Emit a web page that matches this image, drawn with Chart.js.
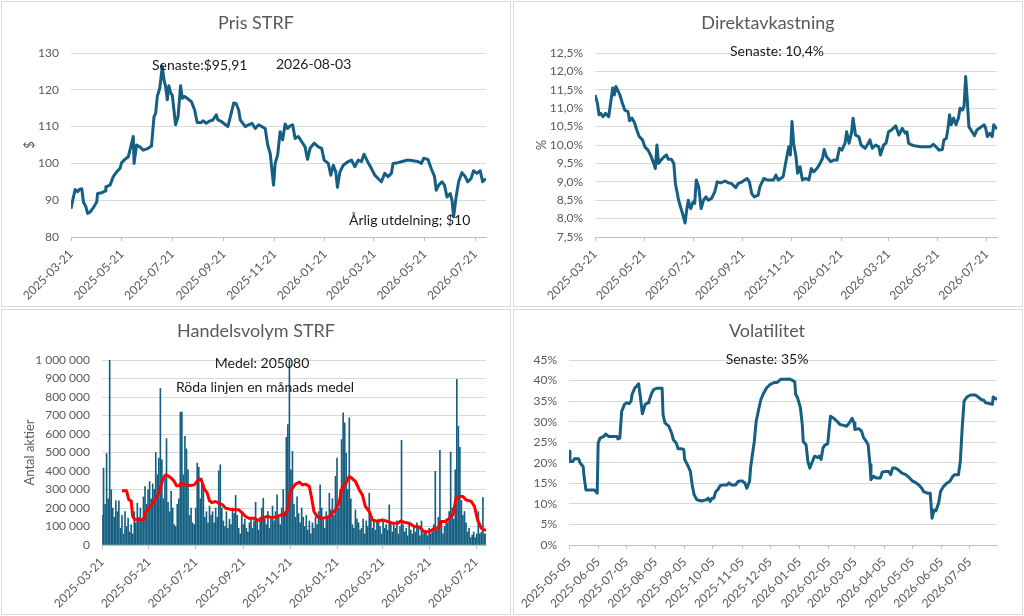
<!DOCTYPE html>
<html>
<head>
<meta charset="utf-8">
<script src="https://cdn.jsdelivr.net/npm/chart.js@4.4.1/dist/chart.umd.min.js"></script>
<style>
    body { margin: 0; background: #fff; width: 1024px; height: 616px; position: relative; overflow: hidden; }
    .panel { position: absolute; width: 508px; height: 304px; border: 1px solid #d9d9d9; background: #fff; }
    canvas { display: block; }
</style>
</head>
<body>
<div class="panel" style="left:1px;top:1px"><canvas id="priceChart" width="508" height="304"></canvas></div>
<div class="panel" style="left:513px;top:1px"><canvas id="yieldChart" width="508" height="304"></canvas></div>
<div class="panel" style="left:1px;top:309px"><canvas id="volumeChart" width="508" height="304"></canvas></div>
<div class="panel" style="left:513px;top:309px"><canvas id="volaChart" width="508" height="304"></canvas></div>
<script>
// dates are kept as day offsets from START (price, yield, volume) or VOLA_START (volatility)
const START = "2025-03-21";
const END = "2026-08-03";
const VOLA_START = "2025-05-05";

const dateTicks = ["2025-03-21", "2025-05-21", "2025-07-21", "2025-09-21", "2025-11-21", "2026-01-21", "2026-03-21", "2026-05-21", "2026-07-21"];
const volaTicks = ["2025-05-05", "2025-06-05", "2025-07-05", "2025-08-05", "2025-09-05", "2025-10-05", "2025-11-05", "2025-12-05", "2026-01-05", "2026-02-05", "2026-03-05", "2026-04-05", "2026-05-05", "2026-06-05", "2026-07-05"];

const priceDays = [0, 3, 5, 8, 10, 13, 15, 18, 20, 23, 27, 31, 32, 37, 41, 42, 47, 51, 55, 59,
    61, 65, 69, 72, 75, 76, 79, 83, 87, 93, 97, 100, 102, 104, 107, 110, 112, 114, 116, 118,
    120, 122, 126, 129, 132, 134, 137, 141, 145, 149, 152, 157, 159, 163, 167, 171, 175, 177, 181, 185,
    189, 193, 196, 199, 202, 204, 210, 214, 218, 222, 226, 230, 234, 237, 240, 244, 246, 249, 252, 255,
    258, 261, 264, 267, 270, 274, 278, 282, 285, 288, 293, 298, 302, 305, 310, 313, 316, 319, 321, 324,
    328, 334, 338, 342, 346, 350, 353, 358, 362, 366, 370, 374, 378, 382, 386, 388, 394, 400, 406, 412,
    418, 422, 425, 430, 434, 438, 440, 443, 447, 450, 453, 457, 459, 461, 464, 467, 471, 475, 478, 482,
    485, 489, 493, 496, 500];
const priceValues = [87.7, 90.9, 92.9, 92.3, 92.9, 93.1, 89.5, 88.2, 86.4, 86.8, 88.0, 89.5, 91.8, 92.0, 92.5, 93.6, 94.1, 96.4, 97.7, 98.6,
    100.2, 101.1, 101.8, 104.5, 107.3, 100.0, 105.0, 104.5, 103.6, 104.1, 104.7, 112.7, 113.6, 118.2, 120.5, 126.4, 122.7, 120.9, 117.3, 121.1,
    119.1, 118.6, 110.5, 112.7, 121.1, 117.7, 118.2, 117.5, 116.8, 114.5, 111.1, 111.1, 111.6, 110.9, 111.5, 111.8, 113.2, 111.8, 111.4, 110.7,
    110.0, 113.6, 116.4, 116.2, 114.5, 111.8, 110.0, 110.5, 110.9, 109.5, 110.5, 110.0, 109.5, 105.0, 102.7, 94.1, 100.0, 102.3, 108.6, 106.4,
    110.7, 109.5, 110.2, 110.5, 106.8, 107.3, 105.9, 104.5, 101.1, 104.1, 105.5, 104.5, 104.1, 100.9, 100.0, 96.8, 99.5, 97.7, 93.5, 97.7,
    99.5, 100.5, 100.9, 99.1, 100.9, 100.5, 102.5, 100.2, 98.6, 96.8, 95.9, 95.0, 97.3, 96.4, 97.3, 100.0, 100.2, 100.6, 100.9, 100.7,
    100.5, 100.0, 101.4, 101.1, 98.6, 96.4, 92.7, 94.1, 95.0, 94.1, 90.9, 91.8, 90.0, 85.5, 90.9, 95.0, 97.5, 96.4, 95.0, 95.9,
    98.0, 97.3, 98.0, 95.0, 95.91];

const yieldDays = [0, 3, 5, 7, 10, 13, 17, 20, 22, 24, 26, 29, 31, 34, 37, 41, 43, 46, 49, 52,
    55, 59, 62, 66, 70, 73, 75, 77, 79, 82, 86, 89, 91, 95, 98, 100, 104, 107, 110, 112,
    114, 116, 119, 122, 124, 126, 129, 132, 135, 138, 141, 145, 149, 152, 156, 162, 166, 170, 175, 178,
    183, 189, 192, 195, 198, 203, 205, 210, 214, 218, 222, 225, 228, 234, 237, 241, 243, 245, 247, 250,
    252, 255, 258, 262, 266, 269, 272, 276, 280, 283, 285, 288, 293, 297, 301, 304, 307, 311, 313, 316,
    319, 321, 324, 328, 331, 336, 340, 342, 345, 349, 353, 355, 359, 362, 365, 369, 374, 378, 382, 386,
    388, 390, 394, 399, 405, 411, 417, 421, 424, 428, 432, 434, 437, 439, 441, 443, 446, 449, 452, 454,
    457, 459, 461, 463, 465, 469, 472, 475, 481, 484, 486, 488, 491, 494, 496, 500];
const yieldValues = [11.36, 11.14, 10.82, 10.86, 10.77, 10.86, 10.77, 11.23, 11.55, 11.36, 11.59, 11.45, 11.36, 11.14, 10.95, 10.91, 10.66, 10.73, 10.61, 10.41,
    10.23, 10.14, 9.95, 9.86, 9.68, 9.5, 9.36, 10.0, 9.5, 9.59, 9.68, 9.73, 9.61, 9.61, 9.5, 8.95, 8.5, 8.27, 8.05, 7.88,
    8.23, 8.5, 8.27, 8.45, 8.41, 9.05, 8.86, 8.27, 8.5, 8.59, 8.5, 8.55, 8.73, 9.0, 8.97, 9.02, 8.97, 8.95, 8.84, 8.95,
    9.0, 9.09, 9.0, 8.68, 8.59, 8.64, 8.86, 9.09, 9.05, 9.05, 9.05, 9.18, 9.05, 9.14, 9.5, 9.95, 9.73, 10.64, 10.05, 9.68,
    9.23, 9.41, 9.05, 9.09, 9.05, 9.36, 9.27, 9.36, 9.5, 9.64, 9.88, 9.68, 9.55, 9.59, 9.59, 9.91, 9.86, 10.05, 10.36, 10.05,
    10.32, 10.73, 10.27, 10.23, 10.0, 9.91, 10.05, 10.14, 9.91, 10.0, 9.95, 9.73, 10.0, 10.05, 10.36, 10.41, 10.52, 10.27, 10.45, 10.32,
    10.36, 10.05, 10.0, 9.97, 9.95, 9.95, 9.95, 10.02, 9.95, 9.86, 9.88, 10.14, 10.18, 10.45, 10.82, 10.55, 10.73, 10.55, 10.73, 11.0,
    10.95, 11.05, 11.86, 11.23, 10.5, 10.36, 10.25, 10.41, 10.5, 10.55, 10.45, 10.23, 10.32, 10.23, 10.55, 10.43];

// one bar every second day, values in thousands of shares
const volumeStepDays = 2;
const volumeThousands = [160, 416, 220, 494, 250, 1000, 298, 200, 150, 239,
    180, 239, 90, 160, 60, 181, 100, 145, 70, 110,
    60, 180, 120, 226, 150, 200, 140, 260, 316, 220,
    298, 343, 250, 330, 300, 500, 380, 470, 846, 460,
    250, 380, 575, 230, 180, 290, 200, 110, 100, 220,
    250, 718, 718, 380, 588, 519, 407, 160, 200, 120,
    110, 200, 443, 420, 250, 362, 320, 150, 180, 120,
    210, 160, 180, 120, 200, 150, 401, 434, 200, 130,
    100, 180, 90, 140, 110, 200, 170, 268, 160, 90,
    60, 180, 110, 140, 90, 70, 120, 150, 90, 130,
    231, 140, 80, 150, 200, 253, 140, 110, 180, 90,
    150, 210, 130, 180, 271, 160, 110, 200, 300, 180,
    582, 651, 1000, 407, 506, 220, 150, 260, 170, 120,
    200, 150, 100, 160, 80, 130, 60, 120, 90, 150,
    110, 180, 325, 200, 140, 90, 180, 150, 280, 190,
    250, 160, 371, 470, 200, 300, 570, 715, 660, 497,
    300, 687, 250, 110, 90, 190, 140, 120, 80, 90,
    140, 60, 130, 100, 280, 140, 90, 130, 80, 120,
    140, 100, 60, 130, 90, 110, 80, 217, 120, 70,
    110, 90, 130, 60, 100, 566, 110, 70, 90, 50,
    120, 80, 60, 100, 70, 120, 90, 50, 130, 60,
    80, 70, 50, 90, 60, 70, 110, 398, 80, 150,
    512, 120, 60, 100, 140, 120, 180, 503, 200, 140,
    407, 895, 642, 528, 240, 160, 181, 120, 70, 90,
    40, 54, 70, 40, 60, 180, 60, 70, 257, 60, 60];

const avgDays = [26, 32, 35, 38, 40, 43, 50, 54, 57, 61, 65, 70, 74, 77, 80, 83, 87, 91, 94, 97,
    100, 103, 107, 111, 115, 120, 124, 127, 130, 133, 137, 140, 143, 148, 152, 157, 161, 167, 174, 178,
    183, 187, 191, 198, 202, 207, 210, 215, 222, 228, 235, 239, 242, 245, 248, 252, 257, 261, 265, 270,
    273, 276, 280, 285, 291, 296, 300, 304, 309, 313, 317, 322, 326, 330, 335, 339, 343, 348, 352, 359,
    365, 372, 378, 385, 389, 393, 400, 407, 413, 419, 426, 433, 438, 441, 448, 452, 457, 461, 465, 470,
    474, 481, 485, 489, 494, 498, 500];
const avgThousands = [293, 293, 244, 239, 154, 136, 136, 136, 181, 199, 217, 253, 280, 325, 362, 380, 371, 358, 344, 320,
    320, 335, 325, 325, 322, 325, 344, 358, 344, 307, 280, 239, 230, 235, 226, 217, 199, 193, 190, 190,
    172, 154, 145, 145, 136, 132, 148, 154, 148, 154, 166, 163, 199, 289, 307, 329, 340, 325, 329, 316,
    253, 181, 154, 145, 148, 154, 172, 190, 235, 316, 329, 371, 358, 344, 298, 271, 208, 181, 136, 127,
    136, 127, 118, 118, 130, 123, 118, 99, 99, 72, 72, 90, 90, 127, 127, 145, 163, 253, 262, 262,
    244, 235, 208, 136, 90, 81, 81];

const volaDays = [0, 1, 4, 6, 10, 12, 15, 16, 18, 22, 27, 30, 31, 33, 37, 39, 42, 47, 51, 52,
    54, 56, 59, 61, 64, 66, 67, 70, 72, 74, 76, 78, 81, 84, 85, 88, 90, 93, 97, 99,
    100, 102, 106, 109, 111, 114, 116, 120, 122, 123, 126, 129, 131, 133, 136, 141, 146, 148, 150, 152,
    154, 156, 158, 161, 164, 168, 170, 173, 177, 180, 184, 187, 189, 192, 193, 195, 197, 199, 202, 204,
    207, 210, 214, 218, 221, 225, 230, 234, 237, 240, 241, 243, 246, 248, 249, 252, 254, 256, 258, 261,
    264, 266, 268, 270, 272, 275, 276, 278, 281, 285, 288, 292, 295, 298, 301, 303, 304, 308, 311, 313,
    316, 318, 320, 321, 324, 327, 331, 333, 336, 340, 342, 344, 347, 350, 354, 358, 362, 365, 369, 372,
    375, 377, 381, 384, 386, 388, 390, 393, 395, 398, 402, 405, 408, 410, 414, 416, 418, 420, 423, 427,
    432, 435, 438, 441, 443, 447, 450, 451, 453, 455];
const volaValues = [22.8, 20.3, 20.3, 21.0, 21.0, 19.9, 19.1, 16.7, 13.4, 13.4, 13.4, 12.6, 24.8, 26.0, 26.4, 27.0, 26.4, 26.4, 26.4, 25.8,
    26.0, 32.5, 34.2, 34.6, 34.4, 35.0, 36.6, 38.2, 38.7, 39.2, 35.8, 31.9, 34.2, 34.6, 35.0, 37.0, 37.8, 38.1, 38.1, 38.1,
    31.7, 29.7, 28.9, 27.3, 25.6, 24.8, 23.4, 23.4, 23.2, 20.8, 19.5, 17.9, 14.6, 12.2, 11.0, 10.7, 11.0, 11.4, 10.6, 11.4,
    11.4, 13.0, 13.4, 14.5, 14.6, 14.6, 15.1, 14.6, 14.6, 15.5, 15.6, 15.1, 13.8, 15.5, 18.7, 22.0, 25.2, 30.1, 33.4, 35.4,
    37.0, 38.2, 39.1, 39.5, 39.5, 40.3, 40.3, 40.4, 40.1, 39.7, 36.6, 35.8, 33.4, 29.3, 25.2, 24.4, 20.3, 18.7, 19.9, 21.6,
    21.3, 21.6, 20.8, 23.6, 24.3, 24.6, 26.9, 31.3, 30.9, 30.1, 29.3, 29.1, 28.9, 29.7, 30.8, 29.7, 28.1, 28.3, 27.7, 26.2,
    25.2, 24.4, 19.5, 15.9, 16.7, 16.3, 16.3, 17.7, 17.9, 17.9, 17.1, 18.7, 18.7, 18.3, 17.5, 17.1, 16.3, 15.6, 15.1, 14.6,
    13.8, 13.0, 12.6, 12.6, 6.5, 8.5, 8.3, 10.2, 13.0, 14.2, 15.1, 15.5, 16.7, 17.1, 17.1, 20.3, 28.5, 35.0, 36.0, 36.5,
    36.5, 36.0, 35.4, 35.2, 34.6, 34.4, 34.2, 36.0, 35.6, 35.6];

const DAY_MS = 86400000;
function toUtc(s) {
    const [y, m, d] = s.split("-").map(Number);
    return Date.UTC(y, m - 1, d);
}
const startMs = toUtc(START);
function dayOf(s) {
    return Math.round((toUtc(s) - startMs) / DAY_MS);
}
function dateOf(n) {
    return new Date(startMs + n * DAY_MS).toISOString().slice(0, 10);
}
function points(days, values, base = 0, scale = 1) {
    return days.map((d, i) => ({ x: base + d, y: values[i] * scale }));
}
function spaced(v) {
    return String(Math.round(v)).replace(/\B(?=(\d{3})+(?!\d))/g, " ");
}

Chart.defaults.font.family = "Lato, 'Open Sans', sans-serif";
Chart.defaults.color = "#595959";

const notesPlugin = {
    id: "notes",
    afterDraw(chart, args, opts) {
        const ctx = chart.ctx;
        ctx.save();
        (opts.items || []).forEach(n => {
            ctx.font = `${n.size || 14}px Lato, 'Open Sans', sans-serif`;
            ctx.fillStyle = n.color || "#1a1a1a";
            ctx.textAlign = n.align || "left";
            ctx.textBaseline = "middle";
            ctx.fillText(n.text, n.x, n.y);
        });
        ctx.restore();
    }
};
Chart.register(notesPlugin);

const W = 508, H = 304;
const endDay = dayOf(END);

function chartOptions(cfg) {
    return {
        responsive: false,
        animation: false,
        layout: { padding: { left: 0, right: W - cfg.plotRight, top: cfg.plotTop, bottom: 0 } },
        plugins: {
            legend: { display: false },
            tooltip: { enabled: false },
            notes: { items: cfg.notes }
        },
        scales: {
            x: {
                type: "linear",
                min: cfg.xMin,
                max: cfg.xMax,
                offset: false,
                afterBuildTicks: s => { s.ticks = cfg.ticks.map(t => ({ value: dayOf(t) })); },
                afterFit: s => { s.height = H - cfg.plotBottom; },
                ticks: {
                    autoSkip: false, minRotation: 45, maxRotation: 45, padding: 6,
                    color: "#595959", font: { size: 12 },
                    callback: v => dateOf(v)
                },
                grid: { display: true, drawOnChartArea: false, drawTicks: true, tickLength: 4, color: "#bfbfbf", offset: false },
                border: { display: true, color: "#bfbfbf" }
            },
            y: {
                min: cfg.yMin,
                max: cfg.yMax,
                afterFit: s => { s.width = cfg.plotLeft; },
                ticks: { stepSize: cfg.step, padding: 12, color: "#595959", font: { size: 12 }, callback: cfg.format },
                grid: { color: "#d9d9d9", drawTicks: false },
                border: { display: false },
                title: cfg.yTitle
                    ? { display: true, text: cfg.yTitle, color: "#595959", font: { size: 13 }, padding: { top: 20, bottom: 0 } }
                    : { display: false }
            }
        }
    };
}

function lineSet(data, color) {
    return {
        type: "line", data, borderColor: color, borderWidth: 3,
        pointRadius: 0, tension: 0, borderJoinStyle: "round", fill: false
    };
}

new Chart(document.getElementById("priceChart"), {
    type: "line",
    data: { datasets: [lineSet(points(priceDays, priceValues), "#156082")] },
    options: chartOptions({
        plotLeft: 69, plotRight: 484, plotTop: 51, plotBottom: 235,
        xMin: 0, xMax: endDay, ticks: dateTicks,
        yMin: 80, yMax: 130, step: 10, format: v => v, yTitle: "$",
        notes: [
            { text: "Pris STRF", x: 254, y: 21, size: 18, color: "#595959", align: "center" },
            { text: "Senaste:$95,91", x: 150, y: 63 },
            { text: "2026-08-03", x: 274, y: 62 },
            { text: "Årlig utdelning; $10", x: 347, y: 218 }
        ]
    })
});

new Chart(document.getElementById("yieldChart"), {
    type: "line",
    data: { datasets: [lineSet(points(yieldDays, yieldValues), "#156082")] },
    options: chartOptions({
        plotLeft: 81, plotRight: 483, plotTop: 51, plotBottom: 235,
        xMin: 0, xMax: endDay, ticks: dateTicks,
        yMin: 7.5, yMax: 12.5, step: 0.5, format: v => v.toFixed(1).replace(".", ",") + "%", yTitle: "%",
        notes: [
            { text: "Direktavkastning", x: 254, y: 21, size: 18, color: "#595959", align: "center" },
            { text: "Senaste: 10,4%", x: 263, y: 49, align: "center" }
        ]
    })
});

const volumeDays = volumeThousands.map((v, i) => i * volumeStepDays);
new Chart(document.getElementById("volumeChart"), {
    type: "bar",
    data: {
        datasets: [
            Object.assign(lineSet(points(avgDays, avgThousands, 0, 1000), "#ff0000"), { order: 0 }),
            {
                type: "bar", order: 1,
                data: points(volumeDays, volumeThousands, 0, 1000),
                backgroundColor: "#156082", barThickness: 1
            }
        ]
    },
    options: chartOptions({
        plotLeft: 100, plotRight: 484, plotTop: 50, plotBottom: 235,
        xMin: 0, xMax: endDay, ticks: dateTicks,
        yMin: 0, yMax: 1000000, step: 100000, format: v => spaced(v), yTitle: "Antal aktier",
        notes: [
            { text: "Handelsvolym STRF", x: 254, y: 21, size: 18, color: "#595959", align: "center" },
            { text: "Medel: 205080", x: 260, y: 53, align: "center" },
            { text: "Röda linjen en månads medel", x: 263, y: 77, align: "center" }
        ]
    })
});

const volaBase = dayOf(VOLA_START);
new Chart(document.getElementById("volaChart"), {
    type: "line",
    data: { datasets: [lineSet(points(volaDays, volaValues, volaBase), "#156082")] },
    options: chartOptions({
        plotLeft: 55, plotRight: 483, plotTop: 50, plotBottom: 235,
        xMin: volaBase, xMax: endDay, ticks: volaTicks,
        yMin: 0, yMax: 45, step: 5, format: v => v + "%", yTitle: null,
        notes: [
            { text: "Volatilitet", x: 253, y: 21, size: 18, color: "#595959", align: "center" },
            { text: "Senaste: 35%", x: 253, y: 49, align: "center" }
        ]
    })
});
</script>
</body>
</html>
